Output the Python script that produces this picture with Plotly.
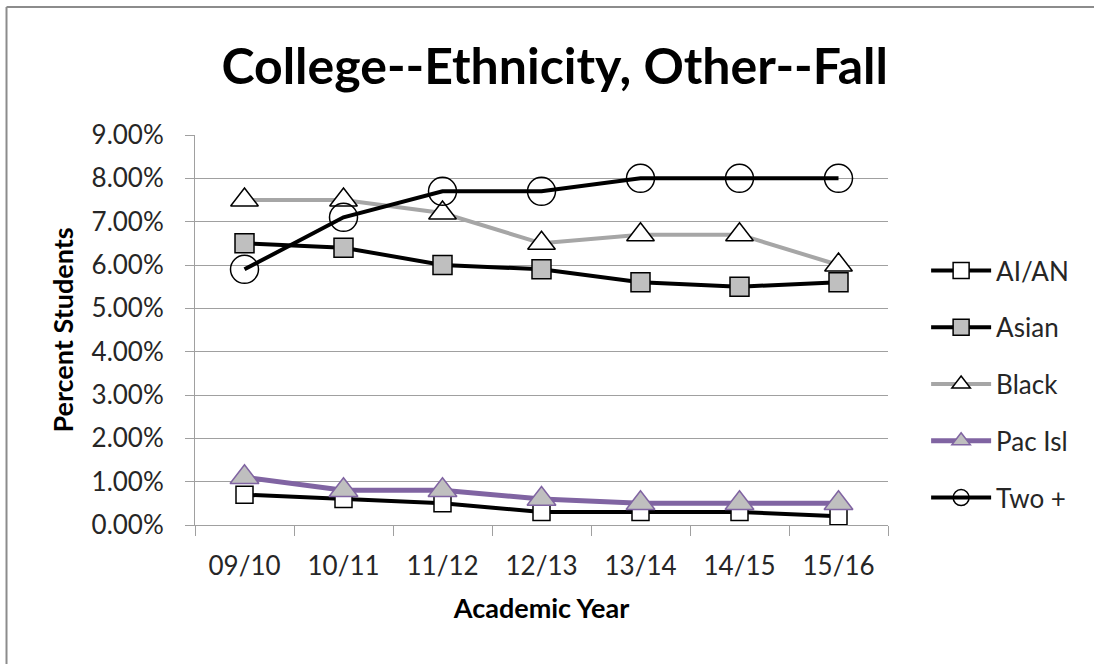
import plotly.graph_objects as go

years = ["09/10", "10/11", "11/12", "12/13", "13/14", "14/15", "15/16"]
ai_an = [0.007, 0.006, 0.005, 0.003, 0.003, 0.003, 0.002]
asian = [0.065, 0.064, 0.060, 0.059, 0.056, 0.055, 0.056]
black = [0.075, 0.075, 0.072, 0.065, 0.067, 0.067, 0.060]
pac_isl = [0.011, 0.008, 0.008, 0.006, 0.005, 0.005, 0.005]
two_plus = [0.059, 0.071, 0.077, 0.077, 0.080, 0.080, 0.080]
y_ticks = [i / 100 for i in range(10)]

FONT = "Lato"

series = [
    dict(name="AI/AN", y=ai_an, line=dict(color="black", width=4),
         marker=dict(symbol="square", size=17, color="white",
                     line=dict(color="black", width=1.5))),
    dict(name="Asian", y=asian, line=dict(color="black", width=4),
         marker=dict(symbol="square", size=19, color="#bfbfbf",
                     line=dict(color="black", width=1.5))),
    dict(name="Black", y=black, line=dict(color="#a6a6a6", width=4),
         marker=dict(symbol="triangle-up", size=24, color="white",
                     line=dict(color="black", width=1.5))),
    dict(name="Pac Isl", y=pac_isl, line=dict(color="#8064a2", width=5),
         marker=dict(symbol="triangle-up", size=25, color="#bfbfbf",
                     line=dict(color="#8064a2", width=1.5))),
    dict(name="Two +", y=two_plus, line=dict(color="black", width=4),
         marker=dict(symbol="circle-open", size=28, color="black",
                     line=dict(color="black", width=1.5))),
]

fig = go.Figure()
for i, s in enumerate(series):
    fig.add_trace(go.Scatter(
        x=years, y=s["y"], name=s["name"], mode="lines+markers",
        line=s["line"], marker=s["marker"], legendgroup=str(i),
    ))

fig.update_layout(
    width=1094, height=664,
    margin=dict(l=195, r=206, t=135, b=139),
    paper_bgcolor="white", plot_bgcolor="white",
    font=dict(family=FONT, color="#262626", size=26),
    title=dict(text="<b>College--Ethnicity, Other--Fall</b>",
               x=0.507, xanchor="center", y=0.9, yanchor="middle",
               font=dict(family=FONT, size=50, color="black")),
    xaxis=dict(
        type="category", tickson="boundaries", ticks="outside", ticklen=10,
        tickcolor="#a0a0a0", showline=True, linecolor="#a0a0a0", linewidth=1,
        showgrid=False, tickfont=dict(size=26, color="#262626"),
        ticklabelstandoff=18,
        title=dict(text="<b>Academic Year</b>", standoff=18,
                   font=dict(size=27, color="black")),
        range=[-0.5, 6.5],
    ),
    yaxis=dict(
        range=[0, 0.09], tickvals=y_ticks, tickformat=".2%",
        ticks="outside", ticklen=9, tickcolor="#a0a0a0",
        showline=True, linecolor="#a0a0a0", linewidth=1,
        showgrid=True, gridcolor="#a0a0a0", gridwidth=1,
        tickfont=dict(size=26, color="#262626"), zeroline=False,
        ticklabelstandoff=16,
        title=dict(text="<b>Percent Students</b>", standoff=10,
                   font=dict(size=27, color="black")),
    ),
    legend=dict(x=1.055, xanchor="left", y=0.3615, yanchor="middle",
                itemwidth=60, tracegroupgap=20,
                font=dict(size=26, color="#262626"),
                bgcolor="rgba(0,0,0,0)"),
    showlegend=True,
)

# chart frame: only the top and left edges fall inside the page
frame = dict(color="#8c8c8c", width=2)
fig.add_shape(type="line", xref="paper", yref="paper",
              x0=-0.272, x1=1.3, y0=1.328, y1=1.328, line=frame, layer="below")
fig.add_shape(type="line", xref="paper", yref="paper",
              x0=-0.272, x1=-0.272, y0=-0.36, y1=1.328, line=frame, layer="below")

# keep the page itself from scrolling
fig.write_html(
    "out.html",
    config={"displayModeBar": False},
    post_script="document.documentElement.style.overflow='hidden';"
                "document.body.style.overflow='hidden';"
                "document.body.style.margin='0';",
)
